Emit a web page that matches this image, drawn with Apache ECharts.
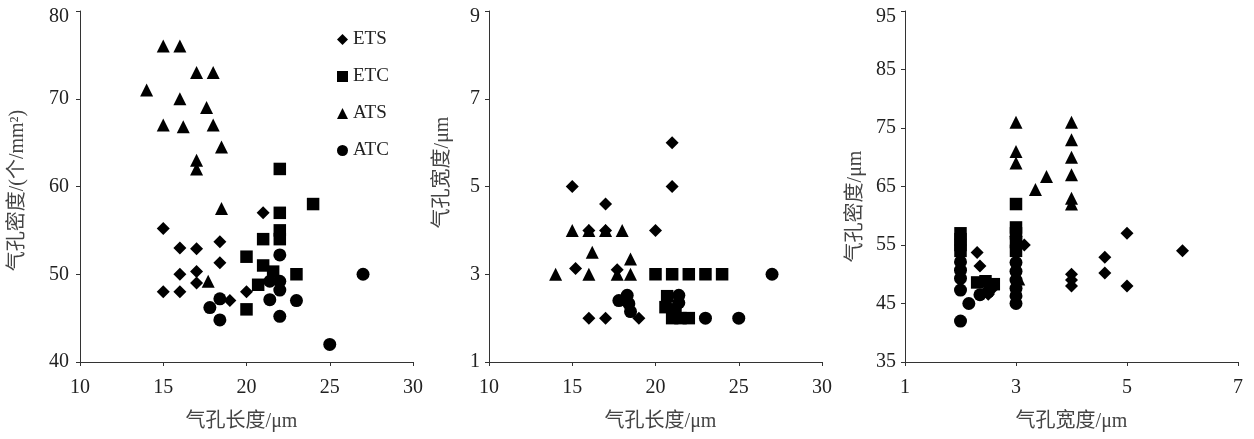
<!DOCTYPE html>
<html>
<head>
<meta charset="utf-8">
<script src="https://cdn.jsdelivr.net/npm/echarts@6/dist/echarts.min.js"></script>
<style>
html,body{margin:0;padding:0;background:#fff;}
#chart{width:1254px;height:439px;}
</style>
</head>
<body>
<div id="chart"></div>
<script>
// Series names
const seriesNames = ['ETS', 'ETC', 'ATS', 'ATC'];

// Panel 1: stomatal length (µm) vs stomatal density
const p1_ETS = [[15,48],[15,55.2],[16,53],[16,50],[16,48],[17,52.9],[17,50.3],[17,49],[18.4,53.7],[18.4,51.3],[19,47],[20,48],[21,57]];
const p1_ETC = [[22,62],[24,58],[22,57],[22,55],[22,54],[21,54],[20,52],[21,51],[21.6,50.3],[23,50],[20.7,48.8],[20,46]];
const p1_ATS = [[14,71],[15,76],[16,76],[17,73],[18,73],[16,70],[17.6,69],[15,67],[16.2,66.8],[18,67],[18.5,64.5],[17,63],[17,62],[18.5,57.5],[17.7,49.2]];
const p1_ATC = [[27,50],[25,42],[22,52.2],[21.4,49.2],[22,49.2],[22,48.2],[21.4,47.1],[23,47],[22,45.2],[17.8,46.2],[18.4,47.2],[18.4,44.8]];

// Panel 2: stomatal length (µm) vs stomatal width (µm)
const p2_ETS = [[15,5],[15.2,3.13],[16,4],[16,2],[17,4.6],[17,4],[17,2],[19,2],[20,4],[21,6],[21,5],[17.7,3.1]];
const p2_ETC = [[20,3],[21,3],[22,3],[23,3],[24,3],[20.7,2.5],[20.6,2.25],[21,2],[21.5,2],[22,2],[21.2,2.2]];
const p2_ATS = [[14,3],[15,4],[16,4],[17,4],[18,4],[16.2,3.5],[16,3],[17.7,3],[18.5,3.35],[18.5,3]];
const p2_ATC = [[27,3],[25,2],[23,2],[21.4,2.52],[21.4,2.35],[17.8,2.4],[18.3,2.52],[18.4,2.33],[18.5,2.15]];

// Panel 3: stomatal width (µm) vs stomatal density
const p3_ETS = [[2.3,53.7],[2.35,51.4],[3.15,55],[4,50],[4,49],[4,48],[4.6,52.9],[4.6,50.2],[5,57],[5,48],[6,54],[2.55,47.3],[2.5,46.6]];
const p3_ETC = [[3,62],[3,58],[3,57],[3,55.5],[3,54],[2,57],[2,56],[2,55],[2,54],[2.3,48.6],[2.45,48.8],[2.6,48.3]];
const p3_ATS = [[3,76],[3,71],[3,69],[3.35,64.5],[3.55,66.7],[4,76],[4,73],[4,70],[4,67],[4,63],[4,62],[3,57.5],[3.05,49.2]];
const p3_ATC = [[2,42],[2.15,45],[2,47.3],[2,49.3],[2,50.7],[2,52.1],[2.35,46.5],[2.5,47],[3,45],[3,46.3],[3,47.6],[3,49],[3,50.5],[3,52]];

// Axis texts
const xNames = ['气孔长度/μm', '气孔长度/μm', '气孔宽度/μm'];
const yNames = ['气孔密度/(个/mm²)', '气孔宽度/μm', '气孔密度/μm'];

const chart = echarts.init(document.getElementById('chart'));
const numFont = "'Liberation Serif', 'DejaVu Serif', serif";
const nameFont = "'Liberation Serif', 'Noto Sans CJK SC', serif";
const symbols = {ETS: 'diamond', ETC: 'rect', ATS: 'triangle', ATC: 'circle'};
const sizes = {ETS: 13, ETC: 12.5, ATS: 13, ATC: 13};

function xAxis(idx, min, max, interval, name, pad) {
  return {
    gridIndex: idx, type: 'value', min: min, max: max, interval: interval,
    name: name, nameLocation: 'middle', nameGap: 50,
    nameTextStyle: {fontFamily: nameFont, fontSize: 20, color: '#444', padding: pad},
    axisLine: {show: true, lineStyle: {color: '#333', width: 1}},
    axisTick: {show: true, inside: false, length: 4, lineStyle: {color: '#333'}},
    axisLabel: {fontFamily: numFont, fontSize: 20, color: '#222', margin: 16},
    splitLine: {show: false}
  };
}
function yAxis(idx, min, max, interval, name, gap, margin, pad) {
  return {
    gridIndex: idx, type: 'value', min: min, max: max, interval: interval,
    name: name, nameLocation: 'middle', nameGap: gap,
    nameTextStyle: {fontFamily: nameFont, fontSize: 20, color: '#444', padding: pad},
    axisLine: {show: true, lineStyle: {color: '#333', width: 1}},
    axisTick: {show: true, inside: false, length: 4, lineStyle: {color: '#333'}},
    axisLabel: {
      fontFamily: numFont, fontSize: 20, color: '#222', margin: margin,
      formatter: function (v) { return v === max ? '{t|' + v + '}' : String(v); },
      rich: {t: {fontFamily: numFont, fontSize: 20, color: '#222', padding: [12, 0, 0, 0]}}
    },
    splitLine: {show: false}
  };
}
function mk(name, data, idx) {
  return {
    name: name, type: 'scatter', xAxisIndex: idx, yAxisIndex: idx,
    data: data, symbol: symbols[name], symbolSize: sizes[name],
    itemStyle: {color: '#000', opacity: 1}, silent: true, animation: false
  };
}

const option = {
  backgroundColor: '#fff',
  animation: false,
  legend: {
    data: seriesNames, orient: 'vertical', left: 332, top: 25,
    itemWidth: 11, itemHeight: 11, itemGap: 18,
    textStyle: {fontFamily: numFont, fontSize: 19, color: '#222'},
    selectedMode: false
  },
  grid: [
    {left: 80, top: 11, width: 333, height: 351},
    {left: 489, top: 11, width: 333, height: 351},
    {left: 905, top: 11, width: 333, height: 351}
  ],
  xAxis: [
    xAxis(0, 10, 30, 5, xNames[0], [0, 10, 0, 0]),
    xAxis(1, 10, 30, 5, xNames[1], [0, 0, 0, 10]),
    xAxis(2, 1, 7, 2, xNames[2], 0)
  ],
  yAxis: [
    yAxis(0, 40, 80, 10, yNames[0], 52, 11, [0, 8, 0, 0]),
    yAxis(1, 1, 9, 2, yNames[1], 36, 9, [0, 0, 0, 28]),
    yAxis(2, 35, 95, 10, yNames[2], 39, 9, [0, 40, 0, 0])
  ],
  series: [
    mk('ETS', p1_ETS, 0), mk('ETC', p1_ETC, 0), mk('ATS', p1_ATS, 0), mk('ATC', p1_ATC, 0),
    mk('ETS', p2_ETS, 1), mk('ETC', p2_ETC, 1), mk('ATS', p2_ATS, 1), mk('ATC', p2_ATC, 1),
    mk('ETS', p3_ETS, 2), mk('ETC', p3_ETC, 2), mk('ATS', p3_ATS, 2), mk('ATC', p3_ATC, 2)
  ]
};
chart.setOption(option);
</script>
</body>
</html>
